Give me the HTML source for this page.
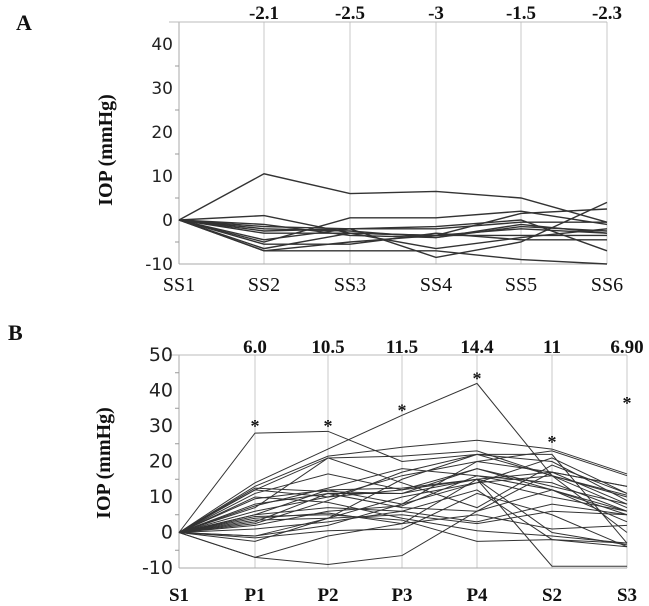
<!DOCTYPE html>
<html><head><meta charset="utf-8">
<style>
body{margin:0;background:#fff;width:649px;height:606px;overflow:hidden}
svg{display:block}
.tk{font-family:"DejaVu Sans","Liberation Sans",sans-serif;font-size:17px;fill:#222}
.tkB{font-family:"DejaVu Sans","Liberation Sans",sans-serif;font-size:19px;fill:#222}
.ser{font-family:"Liberation Serif",serif;fill:#111}
</style></head>
<body>
<svg id="chart" width="649" height="606"></svg>
<script>
// Panel A data
const catsA=["SS1","SS2","SS3","SS4","SS5","SS6"];
const topA=["-2.1","-2.5","-3","-1.5","-2.3"];
const ticksA=[-10,0,10,20,30,40];
const seriesA=[
[0,10.5,6,6.5,5,-0.5],
[0,1,-3,-3.5,1.5,2.5],
[0,-7,-7,-7,-9,-10],
[0,-7,-5,-3.5,-2,-3],
[0,-5,0.5,0.5,2,-1],
[0,-4.5,-2,-8.5,-5,4],
[0,-2,-2.5,-4,-1,-3],
[0,-1.5,-2,-1.5,0,-7],
[0,-3,-3,-3.5,-3.5,-3.5],
[0,-5.5,-5.5,-3,-4.5,-4.5],
[0,-1,-3.5,-4,-1.5,-2.5],
[0,-2.5,-2,-2,-0.5,-0.5],
[0,-6.5,-3,-6.5,-4,-2]
];
// Panel B data
const catsB=["S1","P1","P2","P3","P4","S2","S3"];
const topB=["6.0","10.5","11.5","14.4","11","6.90"];
const ticksB=[-10,0,10,20,30,40,50];
const starsB=[30.5,30.5,35,44,26,37];
const seriesB=[
[0,28,28.5,20,22,16,10],
[0,-7,-9,-6.5,6,17,13],
[0,12,21,21.5,23,16,10.5],
[0,14,23.5,33,42,16,0],
[0,-7,-1,2.5,15,-9.5,-9.5],
[0,-2.5,4,5,2.5,6,5],
[0,13,21.5,24,26,23.5,16.5],
[0,11,16.5,12,18,13,8],
[0,9.5,12,8,14,21,11],
[0,8,11,11,15,17,13],
[0,5,12,12.5,15,10,6],
[0,4,5.5,2.5,5,1,2],
[0,2.5,9,17,22,22,-3],
[0,-1.5,0.5,1,11,5,-4],
[0,-1,4,15,22,20,9],
[0,3,11,7,6,12,6],
[0,6,10,16,20,23,16],
[0,12,10,12,15,0,-3.5],
[0,2,6,7.5,16,14,6],
[0,1,3,6,12,-2,-4],
[0,7.5,12.5,18,16,12,3],
[0,10,8.5,4,0.5,-1,-3],
[0,4.5,5,3.5,-2.5,-2,-3],
[0,-1,2,8,20,17,8],
[0,7,21,14,7,19,11],
[0,3.5,4,10,14,16,7],
[0,12.5,11.5,11,18,12,5],
[0,5,7,6,3,8,5]
];

const NS="http://www.w3.org/2000/svg";
const svg=document.getElementById('chart');
function mk(tag,attrs,parent){const e=document.createElementNS(NS,tag);for(const k in attrs)e.setAttribute(k,attrs[k]);(parent||svg).appendChild(e);return e;}

function panel(cfg){
  const g=mk('g',{});
  
  
  const xs=cfg.xs;
  const y=v=>cfg.y0-(v-cfg.ymin)*cfg.ppu;
  const yTop=cfg.top;
  for(let i=1;i<xs.length;i++){
    const l=mk('line',{x1:xs[i],x2:xs[i],y1:yTop,y2:y(cfg.ymin),stroke:'#c8c8c8','stroke-width':1},g);
    
    
  }
  const ax=mk('line',{x1:xs[0],x2:xs[0],y1:yTop,y2:y(cfg.ymin),stroke:'#aaa','stroke-width':1},g);
  
  
  const tl=mk('line',{x1:xs[0]-10,x2:xs[xs.length-1],y1:yTop,y2:yTop,stroke:'#bbb','stroke-width':1},g);
  
  
  const bx=mk('line',{x1:xs[0],x2:xs[xs.length-1],y1:y(cfg.ymin),y2:y(cfg.ymin),stroke:'#aaa','stroke-width':1},g);
  
  
  cfg.ticks.forEach((t,i)=>{
    const tx=mk('text',{x:xs[0]-6,y:y(t)+6,'text-anchor':'end',class:cfg.tkc},g);
    tx.textContent=t;
    
    
    if(i<cfg.ticks.length-1){
      const m=mk('line',{x1:xs[0]-4,x2:xs[0],y1:y(t+5),y2:y(t+5),stroke:'#999'},g);
      
      
    }
  });
  cfg.series.forEach(s=>{
    const p=mk('polyline',{points:s.map((v,i)=>xs[i]+','+y(v)).join(' '),fill:'none',stroke:'#333','stroke-width':cfg.sw},g);
    
    
  });
  cfg.cats.forEach((c,i)=>{
    const tx=mk('text',{x:xs[i],y:cfg.xly,'text-anchor':'middle',class:'ser','font-size':cfg.xfs,'font-weight':cfg.xfw},g);
    tx.textContent=c;
    
    
  });
  cfg.topLabels.forEach((c,i)=>{
    const tx=mk('text',{x:xs[i+1],y:cfg.tly,'text-anchor':'middle',class:'ser','font-size':19,'font-weight':'bold'},g);
    tx.textContent=c;
    
    
  });
  if(cfg.stars){cfg.stars.forEach((v,i)=>{
    const tx=mk('text',{x:xs[i+1],y:y(v)+8,'text-anchor':'middle',class:'ser','font-size':18,'font-weight':'bold'},g);
    tx.textContent='*';
    
    
  });}
  const yt=mk('text',{x:0,y:0,transform:`translate(${cfg.ytx},${cfg.yty}) rotate(-90)`,'text-anchor':'middle',class:'ser','font-size':20,'font-weight':'bold'},g);
  yt.textContent='IOP (mmHg)';
  
  
  const pl=mk('text',{x:cfg.px,y:cfg.py,class:'ser','font-size':22,'font-weight':'bold'},g);
  pl.textContent=cfg.letter;
  
  
}

panel({name:'panel-a',xs:[179,264,350,436,521,607],ymin:-10,y0:264,ppu:4.4,top:22,ticks:ticksA,series:seriesA,cats:catsA,topLabels:topA,
  xly:291,tly:19,xfs:20,xfw:'normal',tkc:'tk',sw:1.4,ytx:112,yty:150,px:16,py:30,letter:'A'});
panel({name:'panel-b',xs:[179,255,328,402,477,552,627],ymin:-10,y0:568,ppu:3.55,top:355,ticks:ticksB,series:seriesB,cats:catsB,topLabels:topB,
  xly:601,tly:353,xfs:19,xfw:'bold',tkc:'tkB',sw:1,ytx:110,yty:463,px:8,py:340,letter:'B',stars:starsB});
</script>
</body></html>
